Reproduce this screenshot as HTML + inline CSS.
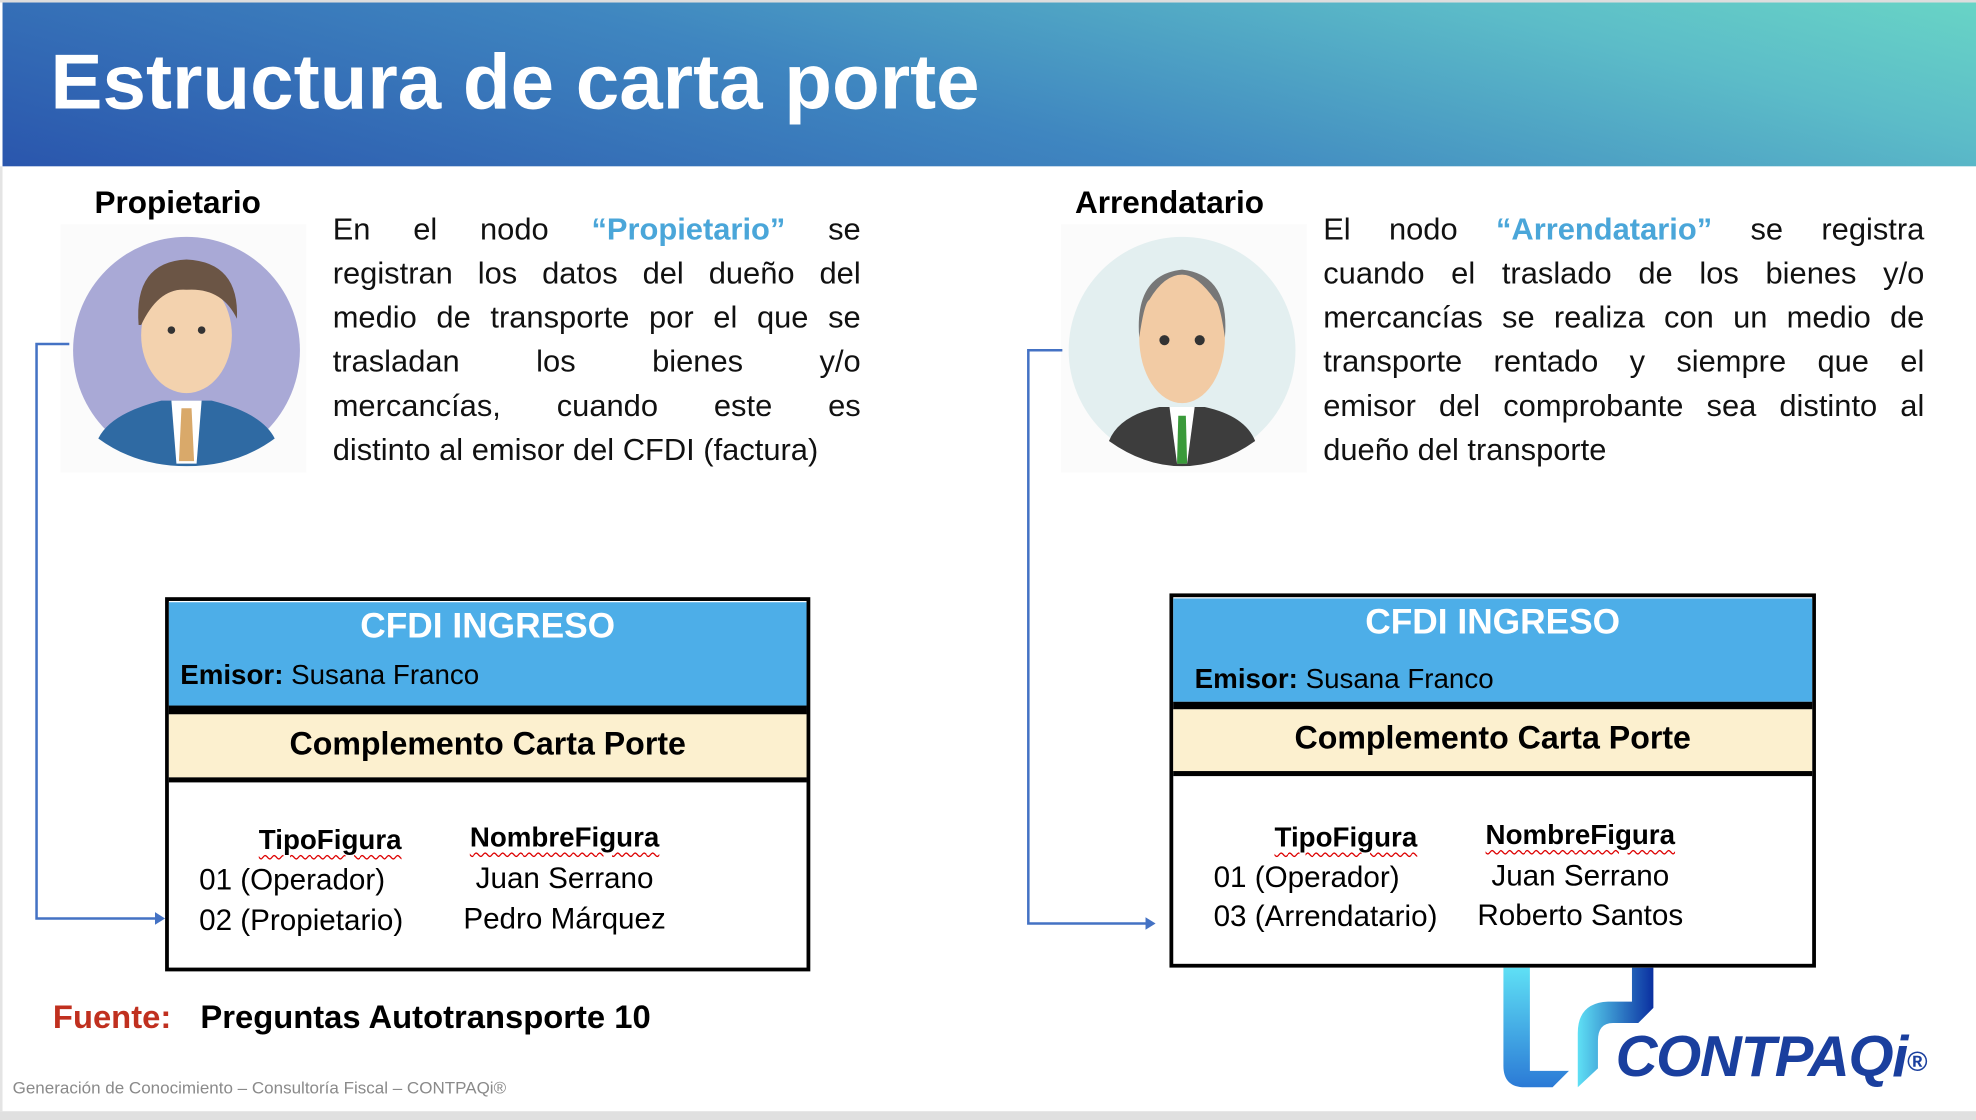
<!DOCTYPE html>
<html><head><meta charset="utf-8"><style>
html,body{margin:0;padding:0;background:#fff;overflow:hidden;width:1976px;height:1120px}
#s{position:absolute;left:0;top:0;width:1568px;height:889px;transform:scale(1.2602,1.2599);transform-origin:0 0;font-family:"Liberation Sans",sans-serif;background:#fff}
.a{position:absolute;white-space:nowrap}
.hdr{position:absolute;left:2px;top:2px;width:1566px;height:130px;background:linear-gradient(15deg,#2a56ad 0%,#3f86c0 45%,#5cbcc8 80%,#68d4c6 100%)}
.p{position:absolute;font-size:24.5px;line-height:35px;color:#111}
.p div{text-align:justify;text-align-last:justify;white-space:nowrap;height:35px}
.p div.l{text-align-last:left}
.b{font-weight:bold}
.blue{color:#4aa6d9;font-weight:bold}
.u{text-decoration:underline wavy #d00;text-underline-offset:4px;text-decoration-thickness:1px}
.r{font-size:23.5px}
</style></head><body><div id="s">
<div style="position:absolute;left:0;top:0;width:1568px;height:2px;background:#ddd"></div>
<div class="hdr"></div>
<div class="a b" style="left:40px;top:30px;font-size:62px;color:#fff">Estructura de carta porte</div>
<div style="position:absolute;left:0;top:132px;width:2px;height:750px;background:#e4e4e4"></div>
<div style="position:absolute;left:0;top:882px;width:1568px;height:7px;background:#e0e0e0"></div>

<div class="a b" style="left:75px;top:147px;font-size:25px">Propietario</div>
<div style="position:absolute;left:48px;top:178px;width:195px;height:197px;background:#fbfbfb"></div>
<svg style="position:absolute;left:48px;top:178px" width="200" height="200" viewBox="0 0 200 200">
<circle cx="100" cy="100" r="90" fill="#a9a9d6"/>
<path d="M30 170 Q40 150 80 140 L120 140 Q160 150 170 170 Q140 192 100 192 Q60 192 30 170Z" fill="#2f6aa3"/>
<path d="M88 140 L112 140 L108 190 L92 190Z" fill="#fff"/>
<path d="M96 146 L104 146 L106 188 L94 188Z" fill="#d9a96a"/>
<ellipse cx="100" cy="88" rx="36" ry="46" fill="#f3d2ae"/>
<path d="M62 80 Q58 30 100 28 Q142 30 140 75 Q128 50 100 52 Q78 50 64 80Z" fill="#6b5545"/>
<circle cx="88" cy="84" r="3" fill="#333"/><circle cx="112" cy="84" r="3" fill="#333"/>
</svg>
<div class="p" style="left:264px;top:165px;width:419px">
<div>En el nodo <span class="blue">“Propietario”</span> se</div>
<div>registran los datos del dueño del</div>
<div>medio de transporte por el que se</div>
<div>trasladan los bienes y/o</div>
<div>mercancías, cuando este es</div>
<div class="l">distinto al emisor del CFDI (factura)</div>
</div>

<div class="a b" style="left:853px;top:147px;font-size:25px">Arrendatario</div>
<div style="position:absolute;left:842px;top:178px;width:195px;height:197px;background:#fbfbfb"></div>
<svg style="position:absolute;left:838px;top:178px" width="200" height="200" viewBox="0 0 200 200">
<circle cx="100" cy="100" r="90" fill="#e3eff0"/>
<path d="M42 172 Q50 152 82 145 L118 145 Q150 152 158 172 Q130 192 100 192 Q70 192 42 172Z" fill="#3d3d3d"/>
<path d="M90 145 L110 145 L104 190 L96 190Z" fill="#fff"/>
<path d="M97 152 L103 152 L104 190 L96 190Z" fill="#3a9a3a"/>
<ellipse cx="100" cy="90" rx="34" ry="52" fill="#f2cba4"/>
<path d="M66 90 Q62 40 100 36 Q138 40 134 90 Q130 62 126 60 Q112 40 100 40 Q86 40 74 60 Q70 62 66 90Z" fill="#777"/>
<circle cx="86" cy="92" r="4" fill="#333"/><circle cx="114" cy="92" r="4" fill="#333"/>
</svg>
<div class="p" style="left:1050px;top:165px;width:477px">
<div>El nodo <span class="blue">“Arrendatario”</span> se registra</div>
<div>cuando el traslado de los bienes y/o</div>
<div>mercancías se realiza con un medio de</div>
<div>transporte rentado y siempre que el</div>
<div>emisor del comprobante sea distinto al</div>
<div class="l">dueño del transporte</div>
</div>

<svg style="position:absolute;left:0;top:0" width="1568" height="889">
<path d="M55 273 H29 V729 H124" fill="none" stroke="#4472c4" stroke-width="2"/>
<path d="M123 724 L131 729 L123 734Z" fill="#4472c4"/>
<path d="M843 278 H816 V733 H910" fill="none" stroke="#4472c4" stroke-width="2"/>
<path d="M909 728 L917 733 L909 738Z" fill="#4472c4"/>
<defs><linearGradient id="g1" x1="0" y1="0" x2="0" y2="1"><stop offset="0" stop-color="#5fe0f5"/><stop offset="1" stop-color="#2b7ad6"/></linearGradient>
<linearGradient id="g2" x1="0" y1="0" x2="1" y2="0"><stop offset="0" stop-color="#5fe0f5"/><stop offset="1" stop-color="#0a2fa0"/></linearGradient></defs>
<path d="M1193 768 H1214 V850 H1245 L1232 863 H1210 Q1193 863 1193 846Z" fill="url(#g1)"/>
<path d="M1295 768 H1312 V800 L1300 812 H1280 Q1268 812 1268 826 V848 L1252 863 V820 Q1252 796 1276 795 H1295Z" fill="url(#g2)"/>
</svg>
<div class="a b" style="left:1282px;top:811px;font-size:46px;font-style:italic;color:#1a3f9e;letter-spacing:-1px">CONTPAQ<span>i</span><span style="font-size:22px;font-style:normal;vertical-align:4px">®</span></div>

<!-- left box -->
<div style="position:absolute;left:131px;top:474px;width:506px;height:291px;border:3px solid #000;background:#fff"></div>
<div style="position:absolute;left:134px;top:478px;width:506px;height:82px;background:#4daee8"></div>
<div style="position:absolute;left:134px;top:560px;width:506px;height:7px;background:#000"></div>
<div style="position:absolute;left:134px;top:567px;width:506px;height:50px;background:#fcf0cf"></div>
<div style="position:absolute;left:134px;top:617px;width:506px;height:4px;background:#000"></div>
<div class="a b" style="left:134px;width:506px;text-align:center;top:481px;font-size:28px;color:#fff">CFDI INGRESO</div>
<div class="a" style="left:143px;top:523px;font-size:22px"><b>Emisor:</b> Susana Franco</div>
<div class="a b" style="left:134px;width:506px;text-align:center;top:577px;font-size:25.5px">Complemento Carta Porte</div>
<div class="a b u" style="left:262px;top:654px;font-size:22px;transform:translateX(-50%)">TipoFigura</div>
<div class="a b u" style="left:448px;top:652px;font-size:22px;transform:translateX(-50%)">NombreFigura</div>
<div class="a r" style="left:158px;top:685px">01 (Operador)</div>
<div class="a r" style="left:158px;top:717px">02 (Propietario)</div>
<div class="a r" style="left:448px;top:684px;transform:translateX(-50%)">Juan Serrano</div>
<div class="a r" style="left:448px;top:716px;transform:translateX(-50%)">Pedro Márquez</div>

<!-- right box -->
<div style="position:absolute;left:928px;top:471px;width:507px;height:291px;border:3px solid #000;background:#fff"></div>
<div style="position:absolute;left:931px;top:475px;width:507px;height:82px;background:#4daee8"></div>
<div style="position:absolute;left:931px;top:557px;width:507px;height:6px;background:#000"></div>
<div style="position:absolute;left:931px;top:563px;width:507px;height:49px;background:#fcf0cf"></div>
<div style="position:absolute;left:931px;top:612px;width:507px;height:4px;background:#000"></div>
<div class="a b" style="left:931px;width:507px;text-align:center;top:478px;font-size:28px;color:#fff">CFDI INGRESO</div>
<div class="a" style="left:948px;top:526px;font-size:22px"><b>Emisor:</b> Susana Franco</div>
<div class="a b" style="left:931px;width:507px;text-align:center;top:572px;font-size:25.5px">Complemento Carta Porte</div>
<div class="a b u" style="left:1068px;top:652px;font-size:22px;transform:translateX(-50%)">TipoFigura</div>
<div class="a b u" style="left:1254px;top:650px;font-size:22px;transform:translateX(-50%)">NombreFigura</div>
<div class="a r" style="left:963px;top:683px">01 (Operador)</div>
<div class="a r" style="left:963px;top:714px">03 (Arrendatario)</div>
<div class="a r" style="left:1254px;top:682px;transform:translateX(-50%)">Juan Serrano</div>
<div class="a r" style="left:1254px;top:713px;transform:translateX(-50%)">Roberto Santos</div>

<div class="a b" style="left:42px;top:792px;font-size:26px;color:#c0301f">Fuente:</div>
<div class="a b" style="left:159px;top:792px;font-size:26px">Preguntas Autotransporte 10</div>
<div class="a" style="left:10px;top:856px;font-size:13.5px;color:#8a8a8a">Generación de Conocimiento – Consultoría Fiscal – CONTPAQi®</div>
</div></body></html>
